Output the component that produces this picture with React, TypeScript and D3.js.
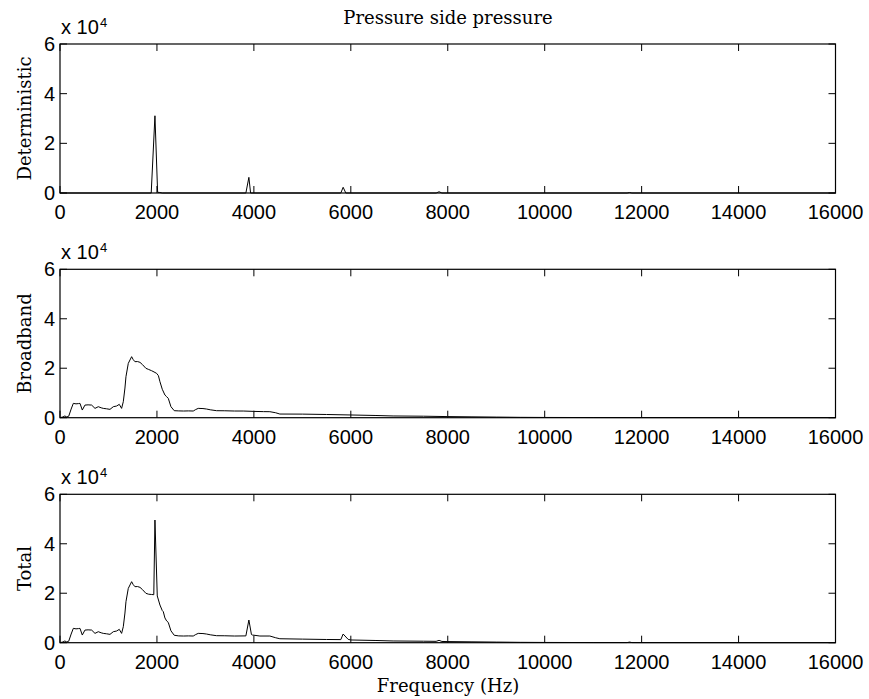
import React from "react";
import * as d3 from "d3";

// ---- data ----
const detFreq = [0, 1882, 1959, 2014, 2060, 2110, 3835, 3897, 3932, 5794, 5842, 5897, 7760, 7821, 7880, 11700, 11753, 11800, 16000];
const detValues = [0, 0, 31100, 300, 200, 0, 0, 6300, 0, 0, 2300, 0, 0, 500, 0, 0, 200, 0, 0];

const bbFreq = [0, 60, 100, 140, 180, 230, 275, 330, 380, 412, 460, 515, 580, 653, 722, 790, 850, 893, 960, 1031, 1100, 1168, 1223, 1271, 1306, 1340, 1361, 1409, 1478, 1510, 1546, 1600, 1650, 1700, 1773, 1830, 1890, 1940, 1993, 2030, 2062, 2110, 2165, 2200, 2234, 2289, 2357, 2450, 2550, 2650, 2749, 2800, 2852, 2950, 3024, 3100, 3230, 3400, 3600, 3780, 4000, 4200, 4330, 4450, 4536, 5000, 5498, 6000, 6500, 6873, 7500, 8000, 8500, 9000, 9500, 10000, 11000, 12000, 14000, 16000];
const bbValues = [0, 300, 700, 300, 600, 3500, 5800, 5600, 5700, 5800, 3100, 5100, 5200, 5100, 3770, 4450, 4000, 3770, 3600, 3370, 4450, 4720, 5400, 3770, 6470, 12000, 16580, 21970, 24670, 23500, 22650, 22700, 22380, 21500, 19950, 19500, 19000, 18500, 17930, 17000, 14560, 11500, 9170, 8500, 7820, 4450, 2830, 2750, 2700, 2750, 2700, 3300, 3770, 3700, 3500, 3200, 2830, 2800, 2700, 2700, 2550, 2450, 2430, 2000, 1480, 1450, 1300, 1100, 900, 700, 600, 450, 350, 250, 150, 100, 60, 40, 20, 0];

const totFreq = [0, 60, 100, 140, 180, 230, 275, 330, 380, 412, 460, 515, 580, 653, 722, 790, 850, 893, 960, 1031, 1100, 1168, 1223, 1271, 1306, 1340, 1361, 1409, 1478, 1510, 1546, 1600, 1650, 1700, 1773, 1830, 1890, 1935, 1959, 2007, 2062, 2110, 2131, 2165, 2200, 2234, 2289, 2357, 2450, 2550, 2650, 2749, 2800, 2852, 2950, 3024, 3100, 3230, 3400, 3600, 3835, 3897, 3950, 3972, 4124, 4330, 4450, 4536, 5000, 5498, 5794, 5842, 5945, 6000, 6500, 6873, 7500, 7760, 7821, 7880, 8000, 8500, 9000, 9500, 10000, 11000, 11700, 11753, 11800, 12000, 14000, 16000];
const totValues = [0, 300, 700, 300, 600, 3500, 5800, 5600, 5700, 5800, 3100, 5100, 5200, 5100, 3770, 4450, 4000, 3770, 3600, 3370, 4450, 4720, 5400, 3770, 6470, 12000, 16580, 21970, 24670, 23500, 22650, 22700, 22380, 21500, 19950, 19600, 19500, 19400, 49600, 18900, 15230, 13000, 12540, 10000, 8800, 8200, 4800, 3000, 2750, 2700, 2750, 2700, 3300, 3770, 3700, 3500, 3200, 2830, 2800, 2700, 2750, 9170, 3300, 3100, 2700, 2700, 2000, 1600, 1450, 1300, 1250, 3500, 1350, 1100, 900, 700, 600, 550, 950, 500, 450, 350, 250, 150, 100, 60, 50, 250, 50, 40, 20, 0];

const xTicks = [0, 2000, 4000, 6000, 8000, 10000, 12000, 14000, 16000];
const yTicks = [0, 20000, 40000, 60000];
const yTickLabels = ["0", "2", "4", "6"];
const panelLabels = ["Deterministic", "Broadband", "Total"];
const title = "Pressure side pressure";
const xLabel = "Frequency (Hz)";

const W = 869;
const H = 699;
const X0 = 60;
const X1 = 835.5;
const panels = [
  { top: 44, bottom: 193 },
  { top: 269.3, bottom: 417.7 },
  { top: 494.3, bottom: 642.7 },
];
const TICK = 7;
const sans = "'Liberation Sans', Arial, Helvetica, sans-serif";
const serif = "'DejaVu Serif', serif";

export default function App() {
  const x = d3.scaleLinear().domain([0, 16000]).range([X0, X1]);
  const series = [
    { f: detFreq, v: detValues },
    { f: bbFreq, v: bbValues },
    { f: totFreq, v: totValues },
  ];

  return (
    <svg width={W} height={H} style={{ position: "absolute", left: 0, top: 0, background: "#fff" }}>
      <rect x={0} y={0} width={W} height={H} fill="#fff" />
      <text x={448} y={24} textAnchor="middle" fontFamily={serif} fontSize={18} fill="#000">
        {title}
      </text>
      {panels.map((p, i) => {
        const y = d3.scaleLinear().domain([0, 60000]).range([p.bottom, p.top]);
        const s = series[i];
        const pts: [number, number][] = s.f.map((f, k) => [f, s.v[k]]);
        const line = d3
          .line<[number, number]>()
          .x((d) => x(d[0]))
          .y((d) => y(d[1]));
        return (
          <g key={i}>
            <path d={line(pts) || ""} fill="none" stroke="#000" strokeWidth={1} strokeLinejoin="round" />
            <rect x={X0} y={p.top} width={X1 - X0} height={p.bottom - p.top} fill="none" stroke="#000" strokeWidth={1.2} />
            {xTicks.map((t) => (
              <g key={"x" + t}>
                <line x1={x(t)} x2={x(t)} y1={p.bottom} y2={p.bottom - TICK} stroke="#000" strokeWidth={1} />
                <line x1={x(t)} x2={x(t)} y1={p.top} y2={p.top + TICK} stroke="#000" strokeWidth={1} />
                <text x={x(t)} y={p.bottom + 26} textAnchor="middle" fontFamily={sans} fontSize={20} fill="#000">
                  {String(t)}
                </text>
              </g>
            ))}
            {yTicks.map((t, k) => (
              <g key={"y" + t}>
                <line x1={X0} x2={X0 + TICK} y1={y(t)} y2={y(t)} stroke="#000" strokeWidth={1} />
                <line x1={X1} x2={X1 - TICK} y1={y(t)} y2={y(t)} stroke="#000" strokeWidth={1} />
                <text x={55} y={y(t) + 7} textAnchor="end" fontFamily={sans} fontSize={20} fill="#000">
                  {yTickLabels[k]}
                </text>
              </g>
            ))}
            <text x={61} y={p.top - 10} fontFamily={sans} fontSize={20} fill="#000">
              x 10
            </text>
            <text x={100} y={p.top - 17} fontFamily={sans} fontSize={13} fill="#000">
              4
            </text>
            <text
              transform={`translate(31,${(p.top + p.bottom) / 2}) rotate(-90)`}
              textAnchor="middle"
              fontFamily={serif}
              fontSize={18}
              fill="#000"
            >
              {panelLabels[i]}
            </text>
          </g>
        );
      })}
      <text x={448} y={692} textAnchor="middle" fontFamily={serif} fontSize={18} fill="#000">
        {xLabel}
      </text>
    </svg>
  );
}
